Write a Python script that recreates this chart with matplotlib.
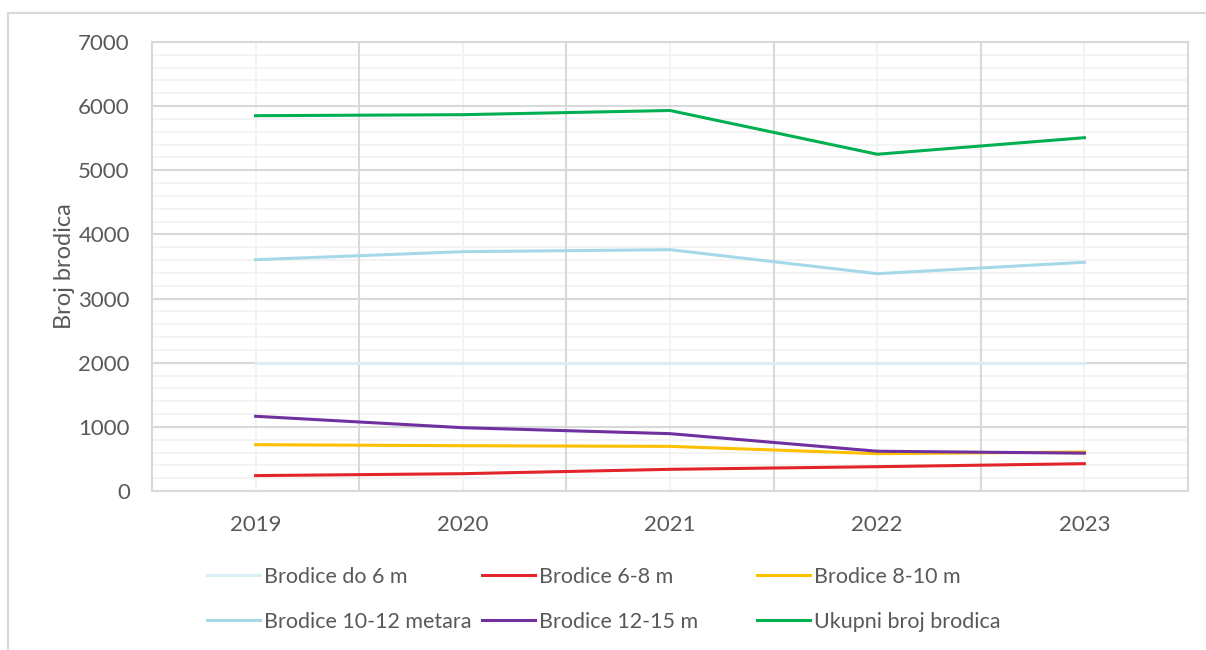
import numpy as np
import matplotlib.pyplot as plt
from matplotlib.ticker import MultipleLocator

years = ['2019', '2020', '2021', '2022', '2023']

do_6m = [2000, 2000, 2000, 2000, 2000]
m6_8 = [240, 270, 338, 379, 426]
m8_10 = [722, 706, 696, 582, 608]
m10_12 = [3606, 3731, 3762, 3388, 3566]
m12_15 = [1165, 987, 894, 620, 590]
ukupno = [5851, 5867, 5932, 5250, 5508]

labels = ['Brodice do 6 m', 'Brodice 6-8 m', 'Brodice 8-10 m',
          'Brodice 10-12 metara', 'Brodice 12-15 m', 'Ukupni broj brodica']
series = [do_6m, m6_8, m8_10, m10_12, m12_15, ukupno]
colors = ['#DAEEF3', '#E3242B', '#FFC000', '#A5D8E8', '#7030A0', '#00B050']

plt.rcParams['font.family'] = ['Lato', 'DejaVu Sans']
txt = '#595959'

fig = plt.figure(figsize=(12.06, 6.5), dpi=100)
# chart area border
fig.patches.append(plt.Rectangle((8 / 1206, -0.05), 1.2, (650 - 13) / 650 + 0.05,
                                 transform=fig.transFigure, fill=False,
                                 edgecolor='#D9D9D9', lw=1.5))

ax = fig.add_axes([152 / 1206, (650 - 491) / 650, (1188 - 152) / 1206, (491 - 42) / 650])
x = np.arange(len(years))

# grid
ax.set_ylim(0, 7000)
ax.set_xlim(-0.5, len(years) - 0.5)
ax.yaxis.set_major_locator(MultipleLocator(1000))
ax.yaxis.set_minor_locator(MultipleLocator(200))
ax.grid(axis='y', which='minor', color='#F2F2F2', lw=1.3)
ax.grid(axis='y', which='major', color='#D9D9D9', lw=1.5)
for xi in x:
    ax.axvline(xi, color='#F2F2F2', lw=1.3, zorder=0.5)
for xi in x[:-1] + 0.5:
    ax.axvline(xi, color='#D9D9D9', lw=1.5, zorder=0.6)
ax.set_axisbelow(True)

handles = []
for s, c, lab in zip(series, colors, labels):
    h, = ax.plot(x, s, color=c, lw=2.2, label=lab, solid_joinstyle='miter')
    handles.append(h)

for sp in ax.spines.values():
    sp.set_color('#D9D9D9')
    sp.set_linewidth(1.5)

ax.set_xticks(x)
ax.set_xticklabels(years)
ax.tick_params(axis='both', which='both', length=0, labelsize=16, colors=txt)
ax.tick_params(axis='x', pad=17)
ax.tick_params(axis='y', pad=16)
ax.set_ylabel('Broj brodica', fontsize=17, color=txt, labelpad=2)

# legend in three columns
col_x = [207, 482, 757]
for i in range(3):
    lg = fig.legend([handles[i], handles[i + 3]], [labels[i], labels[i + 3]],
                    loc='upper left', bbox_to_anchor=(col_x[i] / 1206, (650 - 567) / 650),
                    frameon=False, fontsize=15.5, handlelength=2.45, handletextpad=0.2,
                    labelspacing=1.15, borderpad=0, borderaxespad=0)
    for t in lg.get_texts():
        t.set_color(txt)

fig.savefig('out.png', dpi=100)
